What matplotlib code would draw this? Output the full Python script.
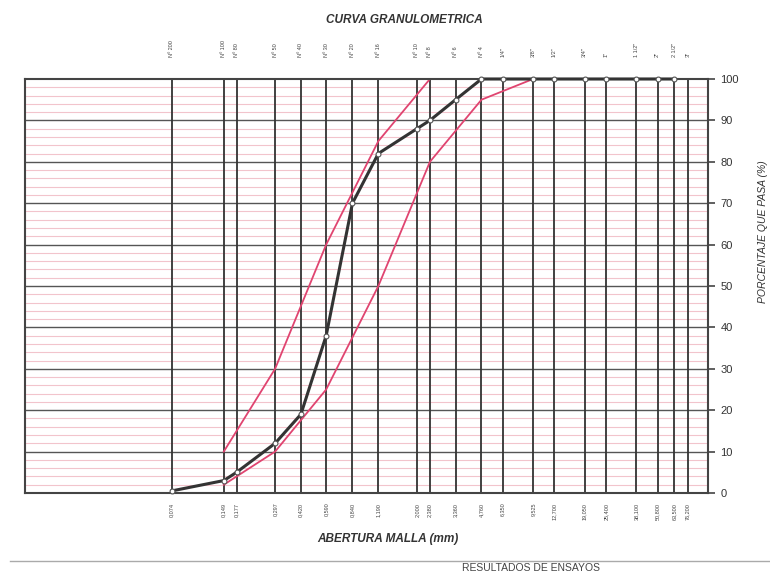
import numpy as np
import matplotlib
matplotlib.use("Agg")
import matplotlib.pyplot as plt
from matplotlib.ticker import NullLocator

#-----------------------------------------------------------------------------
'''data'''

# sieve openings (mm) and names
abertura = [0.074, 0.149, 0.177, 0.297, 0.420, 0.590, 0.840, 1.190, 2.000, 2.380,
            3.360, 4.760, 6.350, 9.525, 12.700, 19.050, 25.400, 38.100, 50.800,
            63.500, 76.200]
mallas = ["Nº 200", "Nº 100", "Nº 80", "Nº 50", "Nº 40", "Nº 30", "Nº 20", "Nº 16",
          "Nº 10", "Nº 8", "Nº 6", "Nº 4", '1/4"', '3/8"', '1/2"', '3/4"', '1"',
          '1 1/2"', '2"', '2 1/2"', '3"']

# sample curve (% passing)
ensayo_x = [0.074, 0.149, 0.177, 0.297, 0.420, 0.590, 0.840, 1.190, 2.000, 2.380,
            3.360, 4.760, 6.350, 9.525, 12.700, 19.050, 25.400, 38.100, 50.800, 63.500]
ensayo_y = [0.5, 3, 5, 12, 19, 38, 70, 82, 88, 90,
            95, 100, 100, 100, 100, 100, 100, 100, 100, 100]

# specification limits
lim_x = [0.149, 0.297, 0.590, 1.190, 2.380, 4.760, 9.525]
lim_sup = [10, 30, 60, 85, 100, 100, 100]
lim_inf = [2, 10, 25, 50, 80, 95, 100]

#-----------------------------------------------------------------------------

plt.rcParams['font.family'] = ['Liberation Sans', 'DejaVu Sans']

fig = plt.figure(figsize=(7.7, 5.77), dpi=100)
ax = fig.add_axes([0.0325, 0.1456, 0.887, 0.7175])

ax.set_xscale("log")
ax.set_xlim(0.0103, 100)
ax.set_ylim(0, 100)

# pink minor grid every 2 %, dark every 10 %
for v in np.arange(2, 100, 2):
    if v % 10 == 0:
        ax.axhline(v, color="#555555", lw=1.0, zorder=1)
    else:
        ax.axhline(v, color="#f2c4cc", lw=0.8, zorder=0)

# sieve lines
for a in abertura:
    ax.axvline(a, color="#333333", lw=1.3, zorder=1)

# limits
ax.plot(lim_x, lim_sup, color="#e04470", lw=1.3, zorder=2)
ax.plot(lim_x, lim_inf, color="#e04470", lw=1.3, zorder=2)

# sample curve
ax.plot(ensayo_x, ensayo_y, "-o", color="#333333", lw=2.2, ms=3.5,
        markerfacecolor="white", markeredgecolor="#555555", markeredgewidth=0.8,
        zorder=3, clip_on=False)

for s in ax.spines.values():
    s.set_color("#444444")
    s.set_linewidth(1.5)

# bottom: openings
ax.xaxis.set_minor_locator(NullLocator())
ax.set_xticks(abertura)
ax.set_xticklabels([("%.3f" % a).replace(".", ",") for a in abertura],
                   rotation=90, fontsize=4, color="#444444")
ax.tick_params(axis="x", length=0, pad=7)

# top: sieve names
top = ax.secondary_xaxis("top")
top.xaxis.set_minor_locator(NullLocator())
top.set_xticks(abertura)
top.set_xticklabels(mallas, rotation=90, fontsize=4, color="#444444")
top.tick_params(axis="x", length=0, pad=16)
for s in top.spines.values():
    s.set_visible(False)

# right: percentage
ax.yaxis.tick_right()
ax.set_yticks(np.arange(0, 101, 10))
ax.tick_params(axis="y", length=5, width=1.2, color="#444444", labelsize=8,
               labelcolor="#333333", pad=4)

fig.text(0.525, 0.966, "CURVA GRANULOMETRICA", ha="center", va="center",
         fontsize=8.5, fontweight="bold", fontstyle="italic", color="#333333")
fig.text(0.504, 0.066, "ABERTURA MALLA (mm)", ha="center", va="center",
         fontsize=8.5, fontweight="bold", fontstyle="italic", color="#333333")
fig.text(0.991, 0.598, "PORCENTAJE QUE PASA (%)", ha="center", va="center",
         rotation=90, fontsize=7.5, fontstyle="italic", color="#333333")

# footer
fig.add_artist(plt.Line2D([0.013, 1.0], [0.028, 0.028], color="#aaaaaa", lw=1.0))
fig.text(0.689, 0.007, "RESULTADOS DE ENSAYOS", ha="center", va="bottom",
         fontsize=7.5, color="#444444")

plt.savefig("out.png", dpi=100)
